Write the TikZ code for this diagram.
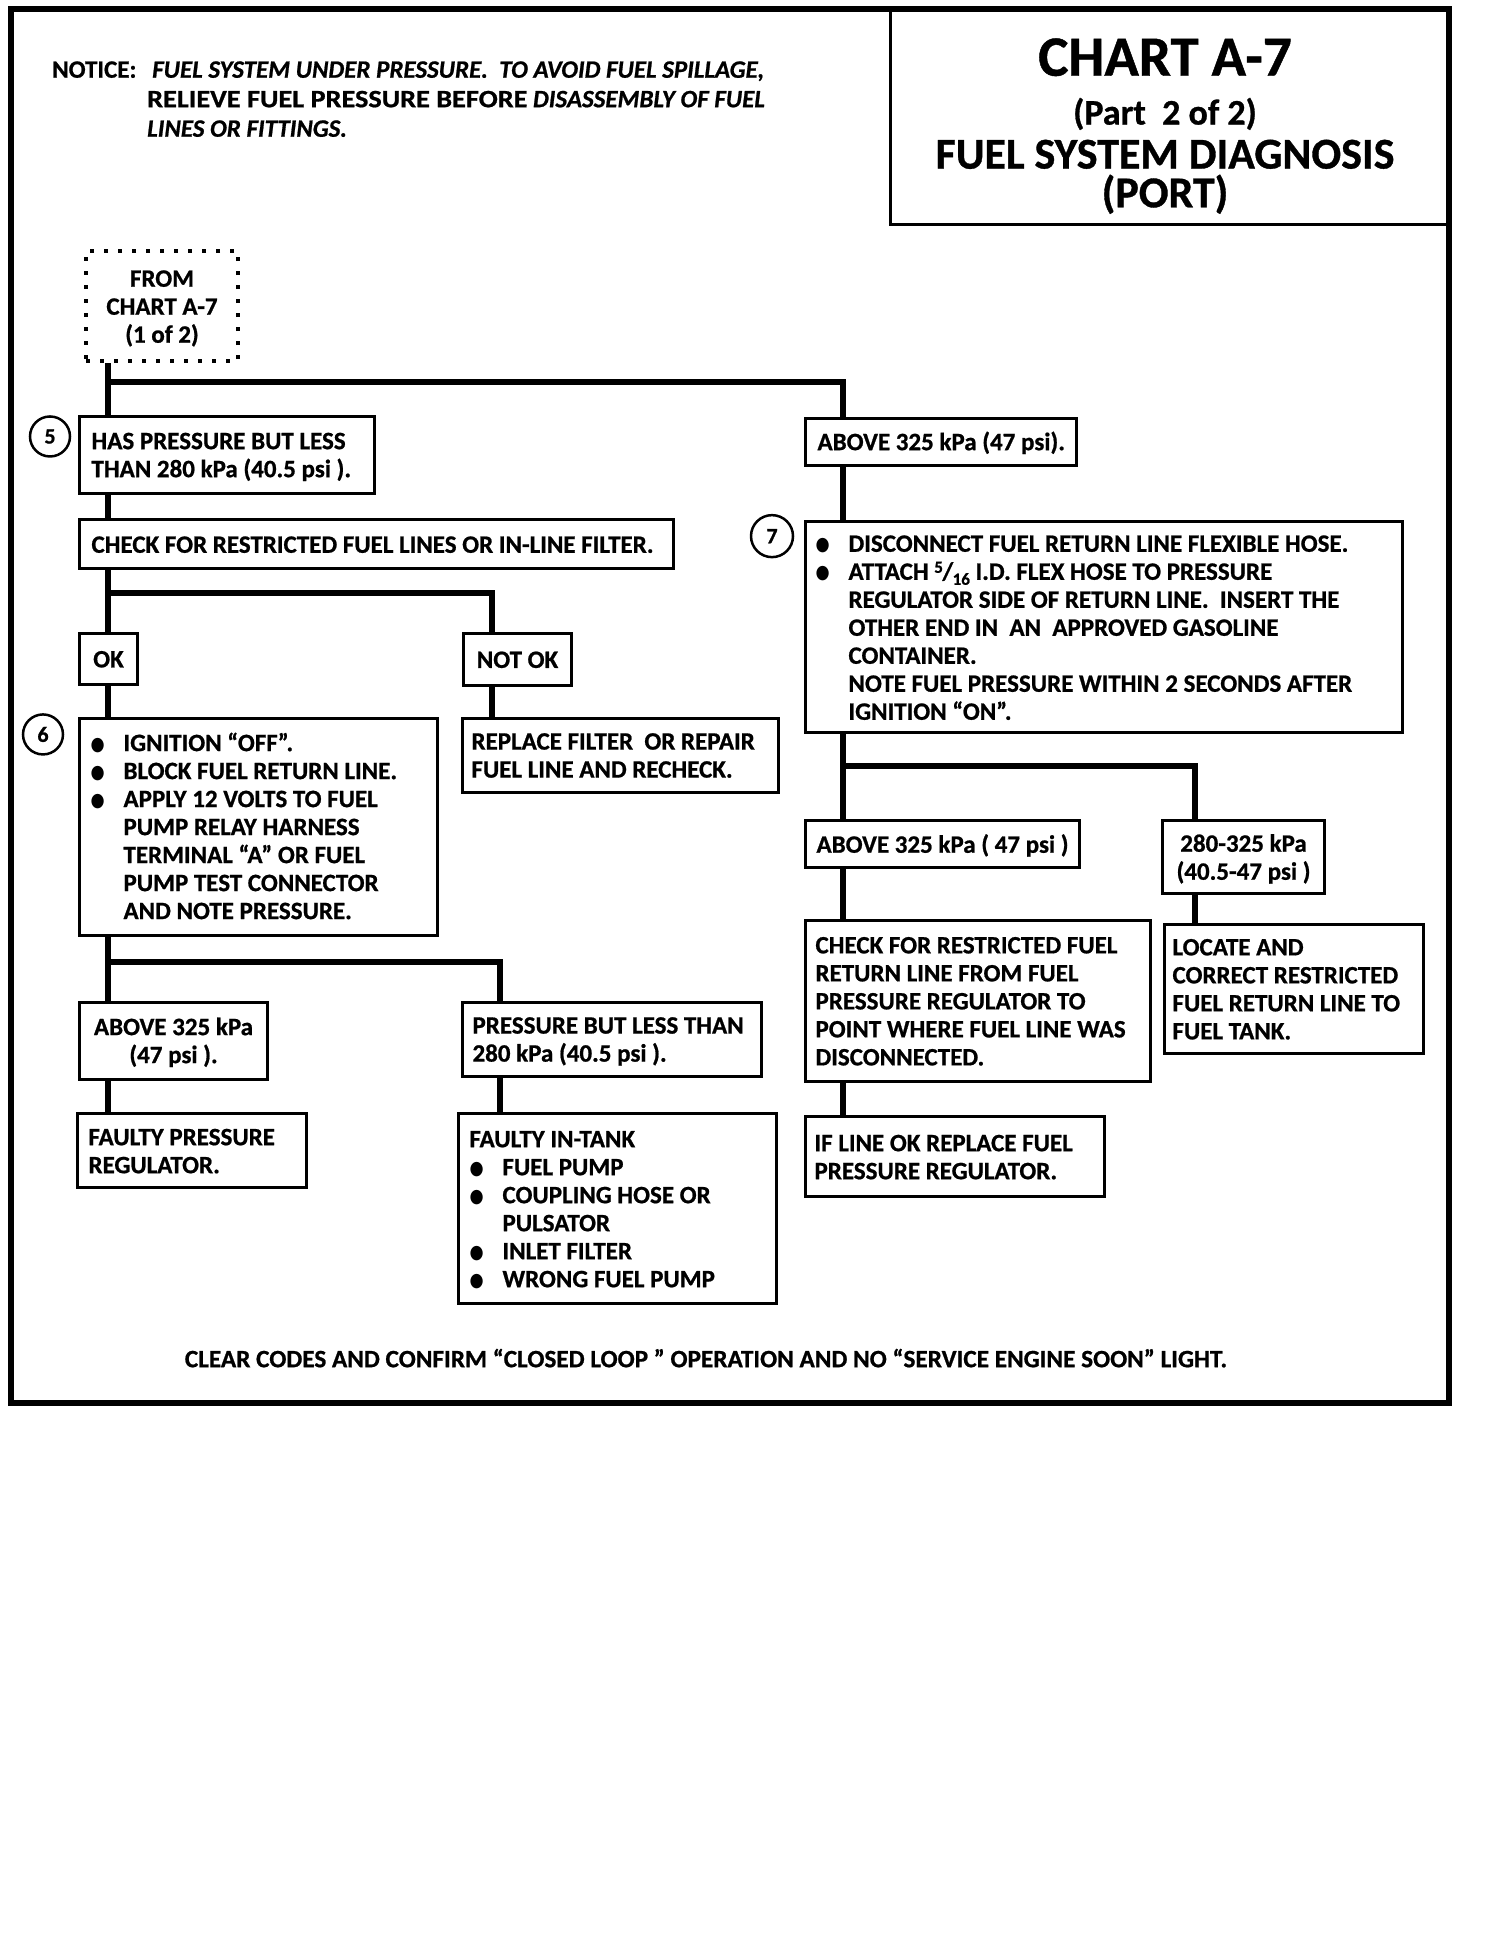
\documentclass[tikz,border=0pt]{standalone}
\usepackage{fontspec}
\setmainfont{Carlito}[BoldFeatures={FakeBold=0.8}, BoldItalicFeatures={FakeBold=0.8}]
\newfontfamily\bulletfont{DejaVu Sans}
\newcommand\bodyfont{\bfseries\fontsize{25}{28}\selectfont}
\newcommand\bx[1]{\spaceskip=0pt\xspaceskip=0pt\raisebox{-3pt}[\height][\depth]{\begin{tabular}{@{}l@{}}#1\end{tabular}}}
\newcommand\bxc[1]{\spaceskip=0pt\xspaceskip=0pt\raisebox{-3pt}[\height][\depth]{\begin{tabular}{@{}c@{}}#1\end{tabular}}}
\newcommand\bul{\makebox[27pt][l]{\hspace*{-6pt}\raisebox{1pt}{\bulletfont\fontsize{19}{19}\selectfont\scalebox{0.85}[1]{●}}}}
\newcommand\ind{\hspace*{27pt}}
\newcommand\frc{{\fontsize{17}{17}\selectfont\raisebox{7pt}{5}}\kern-0.5pt/\kern-0.5pt\raisebox{-5pt}{\fontsize{17}{17}\selectfont 16}}
\begin{document}
\begin{tikzpicture}[x=1pt,y=-0.9965pt,
  box/.style={draw, line width=3pt, anchor=north west, inner ysep=0pt, font=\bodyfont, align=left},
  cbox/.style={draw, line width=3pt, anchor=north west, inner ysep=0pt, inner xsep=4pt, font=\bodyfont, align=center},
  conn/.style={line width=6pt},
  circ/.style={draw, circle, line width=2.5pt, minimum size=40pt, inner sep=0pt, font=\bfseries\fontsize{22}{22}\selectfont},
  plain/.style={inner sep=0pt, font=\bfseries\fontsize{25}{28}\selectfont}]
\useasboundingbox (0,0) rectangle (1504,1948.8);
\fill[white] (0,0) rectangle (1504,1948.8);
% outer frame
\draw[line width=6pt] (11,9) rectangle (1449,1408);
% title box
\node[draw, line width=3pt, anchor=north west, minimum width=560pt, minimum height=214pt, inner sep=0pt] (title) at (889,9) {};
\node[anchor=base, inner sep=0pt, font=\bfseries\fontsize{57}{57}\selectfont] (t1) at (1165,76) {CHART A-7};
\node[anchor=base, inner sep=0pt, font=\bfseries\fontsize{36}{44}\selectfont] (t23) at (1165,125) {\begin{tabular}[t]{@{}c@{}}(Part\ \ 2 of 2)\\ {\fontsize{44}{44}\selectfont FUEL SYSTEM DIAGNOSIS}\end{tabular}};
\node[anchor=base, inner sep=0pt, font=\bfseries\fontsize{44}{44}\selectfont] (t4) at (1165,208) {(PORT)};
% notice
\node[plain, anchor=base west] (notice) at (52,78) {NOTICE:};
\node[plain, anchor=base west] (noticetxt) at (147,78) {\begin{tabular}[t]{@{}l@{}}\hspace*{5pt}\textit{FUEL SYSTEM UNDER PRESSURE.\ \ TO AVOID FUEL SPILLAGE,}\\[1.5pt] \scalebox{1.13}[1]{RELIEVE FUEL PRESSURE BEFORE} \textit{DISASSEMBLY OF FUEL}\\[1.5pt] \textit{LINES OR FITTINGS.}\end{tabular}};
% start
\node[draw, dash pattern=on 4pt off 10pt, line width=4pt, anchor=north west, minimum width=152pt, minimum height=110pt, inner sep=0pt, font=\bodyfont, align=center] (from) at (84,250) {\bxc{FROM\\CHART A-7\\(1 of 2)}};
% left column
\node[box, minimum width=295pt, minimum height=77pt, inner xsep=12pt, text width=271pt] (b5) at (78,416) {\bx{HAS PRESSURE BUT LESS\\THAN 280 kPa (40.5 psi ).}};
\node[circ] (c5) at (50,438) {5};
\node[box, minimum width=594pt, minimum height=49pt, inner xsep=12pt, text width=570pt] (chk) at (78,520) {\bx{CHECK FOR RESTRICTED FUEL LINES OR IN-LINE FILTER.}};
\node[cbox, minimum width=58pt, minimum height=51pt] (ok) at (78,634) {\bxc{OK}};
\node[cbox, minimum width=108pt, minimum height=52pt] (nok) at (462,634) {\bxc{NOT OK}};
\node[box, minimum width=316pt, minimum height=74pt, inner xsep=9pt, text width=298pt] (rep) at (461,719) {\bx{REPLACE FILTER\ \ OR REPAIR\\FUEL LINE AND RECHECK.}};
\node[box, minimum width=358pt, minimum height=217pt, inner xsep=17pt, text width=324pt] (b6) at (78,719) {\bx{\bul IGNITION “OFF”.\\ \bul BLOCK FUEL RETURN LINE.\\ \bul APPLY 12 VOLTS TO FUEL\\ \ind PUMP RELAY HARNESS\\ \ind TERMINAL “A” OR FUEL\\ \ind PUMP TEST CONNECTOR\\ \ind AND NOTE PRESSURE.}};
\node[circ] (c6) at (43,737) {6};
\node[cbox, minimum width=188pt, minimum height=77pt] (a1) at (78,1004) {\bxc{ABOVE 325 kPa\\(47 psi ).}};
\node[box, minimum width=229pt, minimum height=74pt, inner xsep=11pt, text width=207pt] (freg) at (76,1116) {\bx{FAULTY PRESSURE\\REGULATOR.}};
\node[box, minimum width=299pt, minimum height=74pt, inner xsep=10pt, text width=279pt] (pbl) at (461,1004) {\bx{PRESSURE BUT LESS THAN\\280 kPa (40.5 psi ).}};
\node[box, minimum width=318pt, minimum height=190pt, inner xsep=11pt, text width=296pt] (tank) at (457,1116) {\bx{FAULTY IN-TANK\\ \hspace*{6pt}\bul FUEL PUMP\\ \hspace*{6pt}\bul COUPLING HOSE OR\\ \hspace*{6pt}\ind PULSATOR\\ \hspace*{6pt}\bul INLET FILTER\\ \hspace*{6pt}\bul WRONG FUEL PUMP}};
% right column
\node[box, minimum width=271pt, minimum height=47pt, inner xsep=12pt, text width=247pt] (a2) at (804,418) {\bx{ABOVE 325 kPa (47 psi).}};
\node[box, minimum width=597pt, minimum height=211pt, inner xsep=16pt, text width=565pt] (b7) at (804,522) {\bx{\bul DISCONNECT FUEL RETURN LINE FLEXIBLE HOSE.\\ \bul ATTACH \frc{} I.D. FLEX HOSE TO PRESSURE\\ \ind REGULATOR SIDE OF RETURN LINE.\ \ INSERT THE\\ \ind OTHER END IN\ \ AN\ \ APPROVED GASOLINE\\ \ind CONTAINER.\\ \ind NOTE FUEL PRESSURE WITHIN 2 SECONDS AFTER\\ \ind IGNITION “ON”.}};
\node[circ, minimum size=42pt] (c7) at (772,538) {7};
\node[box, minimum width=274pt, minimum height=47pt, inner xsep=11pt, text width=252pt] (a3) at (804,822) {\bx{ABOVE 325 kPa ( 47 psi )}};
\node[cbox, minimum width=162pt, minimum height=73pt] (rng) at (1161,822) {\bxc{280-325 kPa\\(40.5-47 psi )}};
\node[box, minimum width=345pt, minimum height=161pt, inner xsep=10pt, text width=325pt] (cret) at (804,922) {\bx{CHECK FOR RESTRICTED FUEL\\RETURN LINE FROM FUEL\\PRESSURE REGULATOR TO\\POINT WHERE FUEL LINE WAS\\DISCONNECTED.}};
\node[box, minimum width=259pt, minimum height=129pt, inner xsep=8pt, text width=243pt] (loc) at (1163,926) {\bx{LOCATE AND\\CORRECT RESTRICTED\\FUEL RETURN LINE TO\\FUEL TANK.}};
\node[box, minimum width=299pt, minimum height=80pt, inner xsep=9pt, text width=281pt] (ifl) at (804,1119) {\bx{IF LINE OK REPLACE FUEL\\PRESSURE REGULATOR.}};
% bottom note
\node[plain, anchor=base] (clear) at (706,1372) {\scalebox{1.01}[1]{CLEAR CODES AND CONFIRM “CLOSED LOOP\ ” OPERATION AND NO “SERVICE ENGINE SOON” LIGHT.}};
% connectors
\coordinate (xL) at (108,0);
\coordinate (xR) at (843,0);
\coordinate (xN) at (492,0);
\coordinate (xP) at (500,0);
\coordinate (xG) at (1195,0);
\coordinate (j1) at (108,383);
\coordinate (j2) at (108,595);
\coordinate (j3) at (108,965);
\coordinate (j4) at (843,769);
\draw[conn] (from.south -| xL) -- (b5.north -| xL);
\draw[conn] (j1) -| (a2.north -| xR);
\draw[conn] (b5.south -| xL) -- (chk.north -| xL);
\draw[conn] (chk.south -| xL) -- (ok.north -| xL);
\draw[conn] (j2) -| (nok.north -| xN);
\draw[conn] (nok.south -| xN) -- (rep.north -| xN);
\draw[conn] (ok.south -| xL) -- (b6.north -| xL);
\draw[conn] (b6.south -| xL) -- (a1.north -| xL);
\draw[conn] (j3) -| (pbl.north -| xP);
\draw[conn] (a1.south -| xL) -- (freg.north -| xL);
\draw[conn] (pbl.south -| xP) -- (tank.north -| xP);
\draw[conn] (a2.south -| xR) -- (b7.north -| xR);
\draw[conn] (b7.south -| xR) -- (a3.north -| xR);
\draw[conn] (j4) -| (rng.north -| xG);
\draw[conn] (a3.south -| xR) -- (cret.north -| xR);
\draw[conn] (cret.south -| xR) -- (ifl.north -| xR);
\draw[conn] (rng.south -| xG) -- (loc.north -| xG);
\end{tikzpicture}
\end{document}
